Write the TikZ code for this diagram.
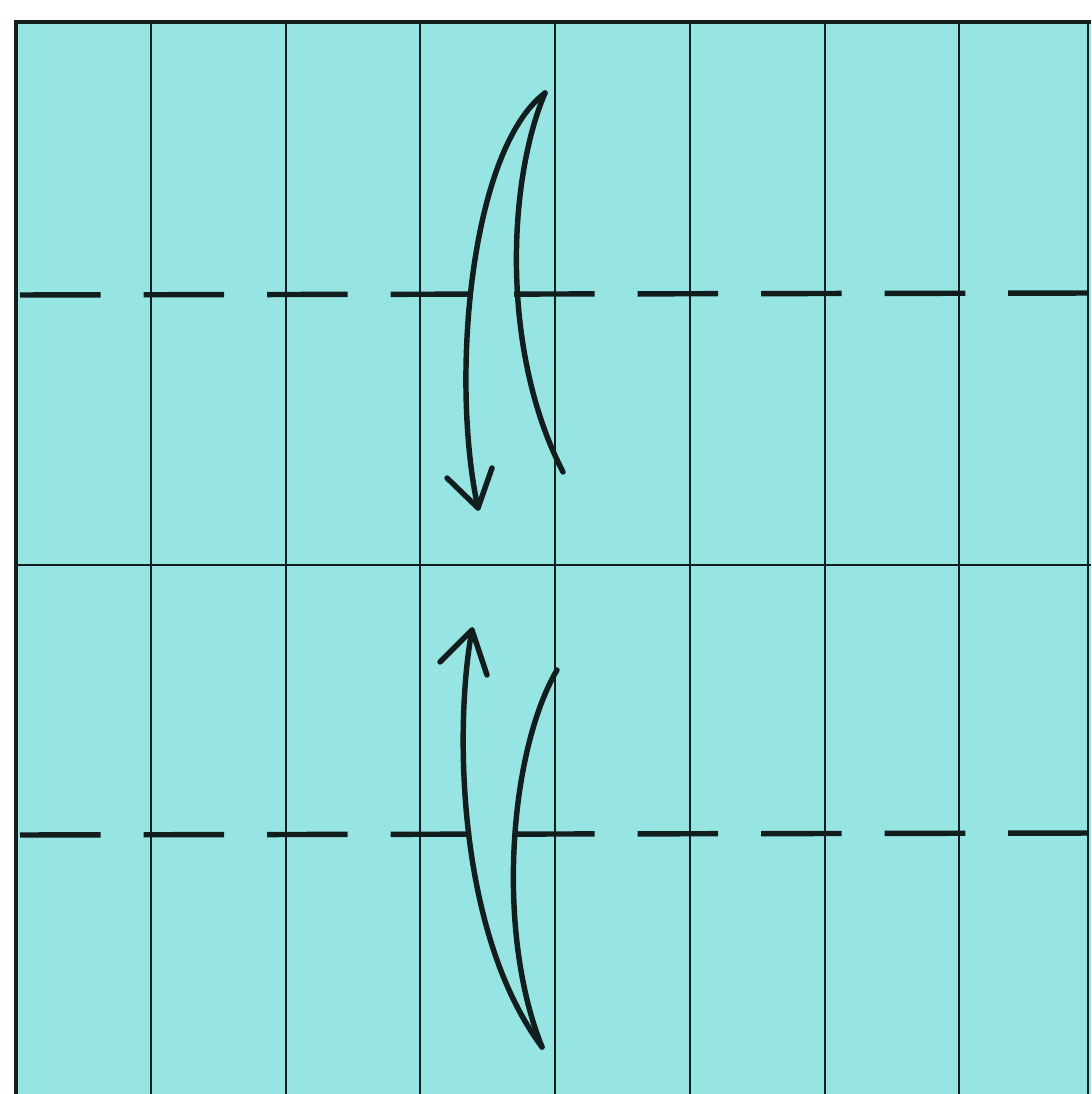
\documentclass[tikz,border=0pt]{standalone}
\definecolor{paper}{RGB}{150,229,227}
\definecolor{ink}{RGB}{18,30,30}
\tikzset{
  crease/.style={draw=ink, line width=1.1pt},
  edge/.style={draw=ink, line width=2.4pt},
  valley/.style={draw=ink, line width=3.1pt, dash pattern=on 45.9pt off 24.4pt},
  foldarrow/.style={draw=ink, line width=3.1pt, line cap=round, line join=round}
}
\begin{document}
\begin{tikzpicture}[x=0.02cm, y=-0.02cm]
\useasboundingbox (0,0) rectangle (1091,1094);
\fill[white] (0,0) rectangle (1091,1094);
\fill[paper] (16,22) rectangle (1091,1094);
% vertical creases
\foreach \x in {151,286,420,555,690,825,959} {
  \draw[crease] (\x,22) -- (\x,1094);
}
\draw[crease, line width=0.6pt] (1088,22) -- (1088,1094);
% middle horizontal crease
\draw[crease] (16,565) -- (1091,565);
% valley fold lines
\draw[valley] (20,295) -- (1091,293);
\draw[valley] (20,835) -- (1091,833);
% paper border
\draw[edge] (16,1094) -- (16,22) -- (1091,22);
% top fold arrow
\coordinate (ta) at (545,93);
\coordinate (tb) at (478,508);
\coordinate (tc) at (563,472);
\draw[foldarrow] (ta) .. controls (470,150) and (450,380) .. (tb);
\draw[foldarrow] (ta) .. controls (508,180) and (500,350) .. (tc);
\draw[foldarrow] (447,478) -- (tb) -- (492,468);
% bottom fold arrow
\coordinate (ba) at (542,1047);
\coordinate (bb) at (472,630);
\coordinate (bc) at (557,670);
\draw[foldarrow] (bb) .. controls (455,720) and (455,930) .. (ba);
\draw[foldarrow] (bc) .. controls (510,750) and (495,930) .. (ba);
\draw[foldarrow] (440,662) -- (bb) -- (487,675);
\end{tikzpicture}
\end{document}
